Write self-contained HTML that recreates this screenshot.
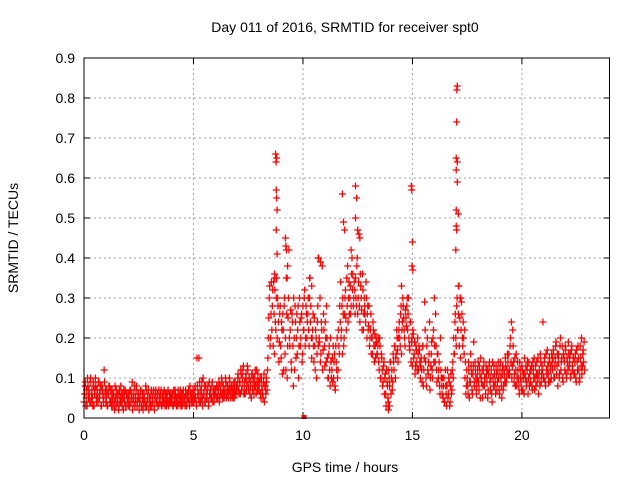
<!DOCTYPE html>
<html><head><meta charset="utf-8">
<style>
html,body{margin:0;padding:0;background:#fff;}
svg{display:block;font-family:"Liberation Sans",sans-serif;}
</style></head>
<body>
<svg id="chart" width="640" height="480" viewBox="0 0 640 480">
  <rect x="0" y="0" width="640" height="480" fill="#fff"/>
  <text x="345" y="32" font-size="14" text-anchor="middle" fill="#000">Day 011 of 2016, SRMTID for receiver spt0</text>
  <text x="345" y="472" font-size="14" text-anchor="middle" fill="#000">GPS time / hours</text>
  <text transform="translate(18,238) rotate(-90)" font-size="14" text-anchor="middle" fill="#000">SRMTID / TECUs</text>
  <g id="grid"></g>
  <g id="ticks"></g>
  <g id="marks"></g>
  <rect x="84" y="58" width="525.5" height="360" fill="none" stroke="#000" stroke-width="1"/>
</svg>
<script>
const xTicks = [0, 5, 10, 15, 20];
const yTicks = [0, 0.1, 0.2, 0.3, 0.4, 0.5, 0.6, 0.7, 0.8, 0.9];
const xDomain = [0, 24];
const yDomain = [0, 0.9];
// quiet-period samples (hundredths of TECU), start 0 h, every 0.04 h
const quietStart = 0;
const quietStep = 0.04;
const quietValues = [
4,8,3,7,10,5,6,9,4,7,3,8,6,10,5,7,4,9,6,8,3,7,5,12,6,
4,7,3,6,8,4,5,7,3,6,2,5,7,4,6,3,5,8,4,6,2,5,7,3,6,
4,6,3,7,5,9,4,6,3,5,8,4,6,2,5,7,3,6,4,5,3,7,4,6,2,
5,3,7,4,6,3,5,7,4,6,3,5,4,7,3,6,5,4,6,3,5,7,4,5,6,
4,6,3,5,7,4,5,3,6,4,7,5,3,6,4,5,7,3,6,5,4,8,5,6,4,
6,5,8,4,15,6,5,9,4,7,5,10,6,4,8,5,7,3,9,6,5,8,4,7,6,
7,5,8,6,9,5,7,10,6,8,5,7,9,6,8,5,10,7,6,8,5,9,7,6,8,
8,11,6,9,12,7,10,13,8,6,11,9,12,7,10,8,5,11,9,6,10,8,12,7,9,
7,10,5,8,6,9,4,8,10,7];
// second receiver-pair quiet samples, start 0.02 h, every 0.04 h
const quiet2Start = 0.02;
const quiet2Values = [
6,9,5,3,8,7,4,10,6,5,9,3,7,8,4,6,9,5,7,3,8,6,4,9,7,
5,3,6,8,4,7,3,5,6,4,8,3,6,5,2,7,4,6,3,5,7,4,3,6,5,
3,5,7,4,6,2,5,8,4,7,3,6,5,4,7,3,5,2,6,4,8,3,5,7,4,
4,6,3,5,7,2,6,4,5,3,7,4,6,3,5,4,7,3,5,6,4,3,6,4,5,
5,3,7,4,6,3,5,7,4,5,3,6,4,7,5,3,6,4,5,7,3,6,4,5,7,
4,7,5,3,8,6,4,7,5,9,3,6,8,4,6,5,8,4,6,7,5,9,6,4,7,
6,8,5,7,4,8,6,9,5,7,6,10,5,8,6,7,9,5,8,6,7,5,9,6,7,
10,7,9,6,11,8,12,6,9,10,7,13,8,10,6,9,11,7,10,8,12,6,9,11,7,
9,6,10,7,5,11,8,6,9,12];
// active-period samples, start 8.4 h, every 0.04 h
const activeStart = 8.4;
const activeStep = 0.04;
const activeValues = [
15,25,33,20,34,28,18,26,32,22,35,30,24,19,28,15,22,26,12,30,20,35,10,25,42,
18,27,12,24,8,20,28,15,26,22,10,30,18,25,14,28,22,32,20,26,24,30,18,35,28,
15,22,18,25,12,20,16,28,40,19,14,24,38,17,22,13,20,28,15,10,18,8,14,12,9,
10,16,7,14,20,12,18,28,34,22,16,26,20,30,25,35,38,30,26,33,28,40,36,30,32,
35,28,40,30,46,24,33,27,36,22,30,26,34,20,28,23,18,22,16,20,24,18,21,15,19,
16,20,12,18,10,15,8,13,6,11,3,9,5,12,8,14,10,7,16,12,18,15,22,17,20,
24,18,28,22,30,25,20,27,23,30,26,20,17,24,19,13,21,16,11,18,14,20,12,17,10,
15,9,18,12,29,14,8,20,11,16,7,13,19,10,22,30,14,18,9,16,12,8,20,10,6,
5,10,4,8,3,12,6,9,4,11,7,14,20,16,26,18,30,22,33,25,15,29,20,24,16,
10,6,12,8,14,5,9,13,7,11,19,8,12,6,10,14,7,11,15,9,5,12,8,10,13,
9,5,11,14,7,12,4,10,13,8,6,11,9,14,7,12,10,5,13,8,11,15,9,12,14,
16,11,20,24,13,18,9,15,12,8,14,10,6,12,9,13,7,11,15,10,8,12,6,14,11,
9,13,7,12,15,10,8,14,11,6,12,16,9,13,24,10,15,8,12,17,11,14,9,13,16,
12,17,10,15,19,13,8,16,11,20,14,18,9,15,12,17,10,14,19,13,16,11,18,12,15,
11,16,9,14,18,12,10,15,20,13,17,19];
// second active samples, start 8.42 h, every 0.04 h
const active2Start = 8.42;
const active2Values = [
20,30,18,26,22,32,34,16,24,30,20,28,14,26,18,24,11,22,28,16,12,26,18,30,20,
22,14,26,18,30,12,24,20,16,28,18,24,20,26,16,22,30,18,28,20,26,22,30,24,20,
20,26,14,18,22,10,24,18,20,30,16,22,12,26,18,24,14,20,10,16,12,20,10,15,18,
14,8,18,12,10,22,16,24,20,28,30,18,26,32,22,28,24,34,30,26,36,32,28,34,26,
30,38,26,34,28,36,30,22,32,26,28,24,30,26,22,28,20,26,20,16,22,14,18,20,16,
18,14,20,10,16,12,9,14,10,6,12,8,4,10,14,6,12,9,14,18,10,16,20,14,22,
20,26,16,24,28,22,18,25,28,22,30,18,24,14,20,22,15,19,13,17,12,16,18,14,13,
12,18,8,15,22,10,18,12,14,24,10,16,12,20,14,18,26,12,16,10,14,6,12,8,10,
8,4,12,6,8,5,10,3,8,6,12,10,16,24,20,28,22,26,18,30,22,26,18,20,22,
14,8,10,6,12,9,16,11,6,13,9,14,10,8,12,9,13,5,10,12,8,14,10,6,11,
12,7,13,9,10,6,14,8,11,9,13,7,12,10,6,14,8,11,7,12,9,13,10,16,11,
12,18,14,10,22,14,11,8,16,10,12,8,14,10,7,12,10,6,11,13,9,14,10,8,12,
12,8,14,10,7,13,11,9,15,10,8,14,11,12,10,14,9,16,11,13,9,15,12,10,14,
15,10,13,18,11,16,14,10,18,12,15,10,16,14,18,11,15,12,16,14,10,17,13,15,11,
14,10,17,12,15,9,18,13,11,16,14,12];
// isolated spike points
const spikeTimes = [8.75,8.77,8.8,8.78,8.8,8.82,8.78,8.82,8.7,8.72,9.2,9.22,9.25,9.3,9.28,10.3,10.4,10.7,10.8,11.8,11.85,11.9,12.4,12.45,12.4,12.5,12.6,12.2,14.5,14.95,14.97,15.0,14.98,15.02,17.05,17.03,17.02,17.0,17.05,17.0,17.05,17.0,17.1,17.0,17.02,16.98,17.1,17.2,13.9,13.95,5.25];
const spikeValues = [0.66,0.64,0.65,0.57,0.55,0.52,0.47,0.41,0.36,0.35,0.45,0.43,0.42,0.38,0.35,0.35,0.33,0.40,0.39,0.56,0.49,0.47,0.58,0.55,0.50,0.47,0.45,0.42,0.33,0.58,0.57,0.44,0.38,0.37,0.83,0.82,0.74,0.65,0.64,0.62,0.59,0.52,0.51,0.48,0.47,0.42,0.33,0.30,0.02,0.03,0.15];

const L=84, R=609.5, T=58, B=418;
function xs(v){return L+(v-xDomain[0])/(xDomain[1]-xDomain[0])*(R-L);}
function ys(v){return B-(v-yDomain[0])/(yDomain[1]-yDomain[0])*(B-T);}
const NS="http://www.w3.org/2000/svg";
const grid=document.getElementById('grid'), ticks=document.getElementById('ticks'), marks=document.getElementById('marks');

xTicks.forEach(function(t){
  const x=xs(t);
  if(t>xDomain[0]){
    const g=document.createElementNS(NS,'line');
    g.setAttribute('x1',x);g.setAttribute('x2',x);g.setAttribute('y1',T);g.setAttribute('y2',B);
    g.setAttribute('stroke','#a0a0a0');g.setAttribute('stroke-dasharray','2,3');
    
    
    grid.appendChild(g);
  }
  const m=document.createElementNS(NS,'path');
  m.setAttribute('d','M'+x+' '+B+'v-6M'+x+' '+T+'v6');
  m.setAttribute('stroke','#000');
  
  
  ticks.appendChild(m);
  const tx=document.createElementNS(NS,'text');
  tx.setAttribute('x',x);tx.setAttribute('y',B+22);tx.setAttribute('font-size','14');tx.setAttribute('text-anchor','middle');
  tx.textContent=String(t);
  
  
  ticks.appendChild(tx);
});
yTicks.forEach(function(t){
  const y=ys(t);
  if(t>yDomain[0] && t<yDomain[1]){
    const g=document.createElementNS(NS,'line');
    g.setAttribute('x1',L);g.setAttribute('x2',R);g.setAttribute('y1',y);g.setAttribute('y2',y);
    g.setAttribute('stroke','#a0a0a0');g.setAttribute('stroke-dasharray','2,3');
    
    
    grid.appendChild(g);
  }
  const m=document.createElementNS(NS,'path');
  m.setAttribute('d','M'+L+' '+y+'h6M'+R+' '+y+'h-6');
  m.setAttribute('stroke','#000');
  
  
  ticks.appendChild(m);
  const tx=document.createElementNS(NS,'text');
  tx.setAttribute('x',L-9);tx.setAttribute('y',y+5);tx.setAttribute('font-size','14');tx.setAttribute('text-anchor','end');
  tx.textContent=(t===0)?'0':t.toFixed(1);
  
  
  ticks.appendChild(tx);
});

function plus(t,v){
  const x=xs(t), y=ys(v);
  const p=document.createElementNS(NS,'path');
  p.setAttribute('d','M'+(x-3.5)+' '+y+'h7M'+x+' '+(y-3.5)+'v7');
  p.setAttribute('stroke','#ff0000');p.setAttribute('stroke-width','1.3');p.setAttribute('fill','none');
  
  
  marks.appendChild(p);
}
quietValues.forEach(function(v,i){plus(quietStart+i*quietStep, v/100);});
quiet2Values.forEach(function(v,i){plus(quiet2Start+i*quietStep, v/100);});
activeValues.forEach(function(v,i){plus(activeStart+i*activeStep, v/100);});
active2Values.forEach(function(v,i){plus(active2Start+i*activeStep, v/100);});
spikeTimes.forEach(function(t,i){plus(t, spikeValues[i]);});
const sq=document.createElementNS(NS,'rect');
sq.setAttribute('x',xs(10.05)-2.5);sq.setAttribute('y',ys(0)-3);sq.setAttribute('width',5);sq.setAttribute('height',4);sq.setAttribute('fill','#ff0000');


marks.appendChild(sq);
</script>
</body></html>
